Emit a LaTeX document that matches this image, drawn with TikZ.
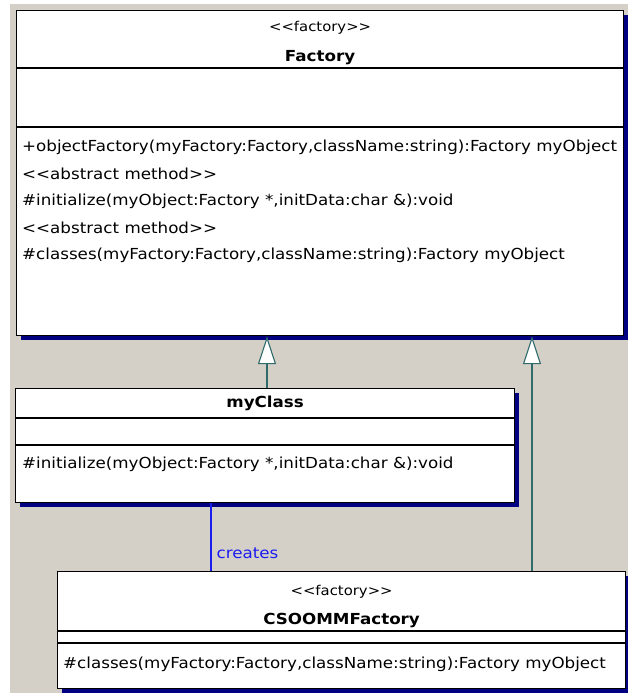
\documentclass[tikz,border=0pt]{standalone}
\usepackage{fontspec}
\setmainfont{DejaVu Sans}[Ligatures=TeXOff,FakeStretch=1.1]
\usepackage{xcolor}
\usetikzlibrary{arrows.meta,shadows}
\definecolor{winbg}{HTML}{D4D0C8}
\definecolor{shade}{HTML}{000080}
\definecolor{genline}{HTML}{2F6B6B}
\definecolor{assoc}{HTML}{1C1CF0}

\begin{document}
\begin{tikzpicture}[x=1pt,y=-1pt]
\tikzset{class/.style={draw=black,line width=1.2pt,fill=white,anchor=north west,inner sep=0pt,
  drop shadow={fill=shade,opacity=1,shadow xshift=4pt,shadow yshift=-4pt}}}
\tikzset{txt/.style={inner sep=0pt,font=\fontsize{15.2}{17}\selectfont}}
\tikzset{stereo/.style={txt,font=\fontsize{13.5}{16}\selectfont}}
\tikzset{bold/.style={txt,font=\fontsize{15.2}{17}\selectfont\bfseries}}
\tikzset{op/.style={txt,anchor=west}}
\tikzset{sep/.style={draw=black,line width=1.2pt}}
\tikzset{gen/.style={draw=genline,line width=1.1pt,-{Triangle[width=18pt,length=28pt,fill=white]}}}
\tikzset{uses/.style={color=assoc,line width=1.3pt}}

\fill[white] (0,0) rectangle (628,693);
\fill[winbg] (10,4) rectangle (628,693);
\useasboundingbox (0,0) rectangle (628,693);

\node[class,minimum width=607pt,minimum height=325pt] (factory) at (16,10) {};
\draw[sep] ([yshift=-58pt]factory.north west) -- ([yshift=-58pt]factory.north east);
\draw[sep] ([yshift=-117pt]factory.north west) -- ([yshift=-117pt]factory.north east);
\node[stereo] (fstereo) at (factory.north |- 0,28) {<<factory>>};
\node[bold] (fname) at (factory.north |- 0,58) {Factory};
\node[op] (fop1) at (22,147) {+objectFactory(myFactory:Factory,className:string):Factory myObject};
\node[op] (fop2) at (22,174) {<<abstract method>>};
\node[op] (fop3) at (22,201) {\#initialize(myObject:Factory *,initData:char \&):void};
\node[op] (fop4) at (22,228) {<<abstract method>>};
\node[op] (fop5) at (22,255) {\#classes(myFactory:Factory,className:string):Factory myObject};

\node[class,minimum width=499pt,minimum height=114pt] (myclass) at (15,388) {};
\draw[sep] ([yshift=-30pt]myclass.north west) -- ([yshift=-30pt]myclass.north east);
\draw[sep] ([yshift=-57pt]myclass.north west) -- ([yshift=-57pt]myclass.north east);
\node[bold] (mname) at (myclass.north |- 0,403) {myClass};
\node[op] (mop1) at (22,464) {\#initialize(myObject:Factory *,initData:char \&):void};

\node[class,minimum width=568pt,minimum height=117pt] (csoomm) at (57,571) {};
\draw[sep] ([yshift=-60pt]csoomm.north west) -- ([yshift=-60pt]csoomm.north east);
\draw[sep] ([yshift=-72pt]csoomm.north west) -- ([yshift=-72pt]csoomm.north east);
\node[stereo] (cstereo) at (csoomm.north |- 0,592) {<<factory>>};
\node[bold] (cname) at (csoomm.north |- 0,620) {CSOOMMFactory};
\node[op] (cop1) at (63,664) {\#classes(myFactory:Factory,className:string):Factory myObject};

\coordinate (g1) at (267,0);
\coordinate (g2) at (532,0);
\coordinate (u1) at (211,0);
\draw[gen] (myclass.north -| g1) -- (factory.south -| g1);
\draw[gen] (csoomm.north -| g2) -- (factory.south -| g2);
\draw[uses] (myclass.south -| u1) -- (csoomm.north -| u1)
  node[pos=0.74,right=5pt,txt,text=assoc] (lcreates) {creates};
\end{tikzpicture}
\end{document}
